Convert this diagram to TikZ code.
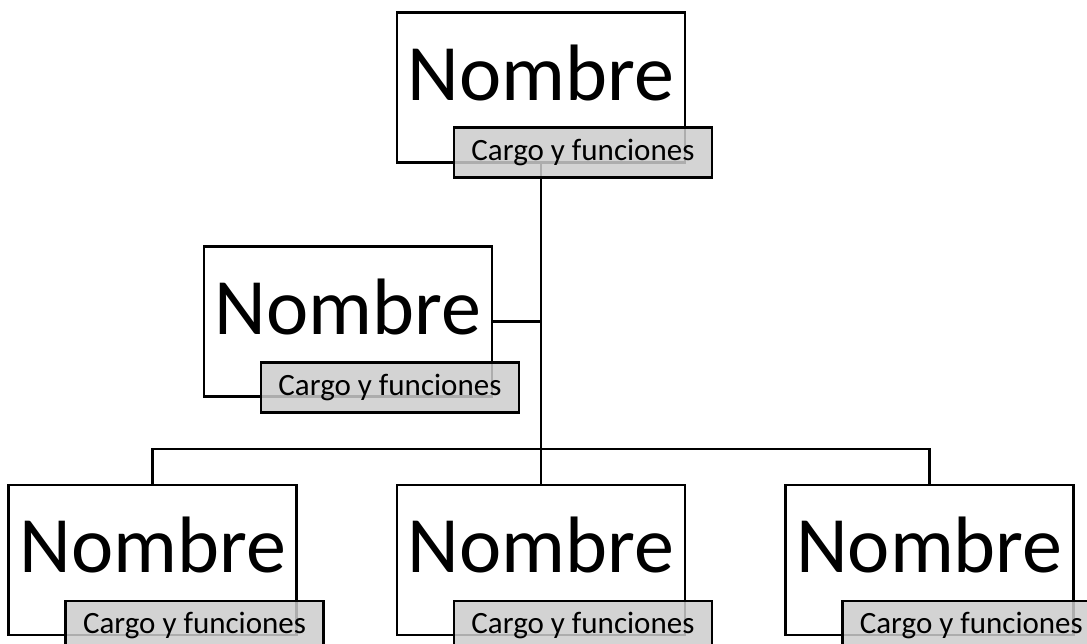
\documentclass[tikz,border=0pt]{standalone}
\usepackage{fontspec}
\setmainfont{Carlito}
\usetikzlibrary{positioning}
\tikzset{
    person/.style={draw=black,line width=2.4pt,fill=white,minimum width=288pt,minimum height=150pt,inner sep=0pt,text height=88pt,text depth=62pt,font=\fontsize{80}{80}\selectfont},
    role/.style={draw=black,line width=2.3pt,fill=gray!40,fill opacity=0.85,text opacity=1,minimum width=258pt,minimum height=50pt,inner sep=0pt,font=\fontsize{31}{31}\selectfont},
    link/.style={line width=2.3pt}
}

\begin{document}
\begin{tikzpicture}[x=1pt,y=1pt]
    \useasboundingbox (0,0) rectangle (1087,-643);

    \node [person] (top) at (541,-87.5) {Nombre};
    \node [person] (mid) at (348,-321.5) {Nombre};
    \node [person,below=320pt of top] (b2) {Nombre};
    \node [person,left=98pt of b2] (b1) {Nombre};
    \node [person,right=98pt of b2] (b3) {Nombre};

    \draw [link] (top.south) -- (b2.north);
    \draw [link] (mid.east) -- (mid.east -| top.south);
    \draw [link] (b1.north) -- ++(0,35) -| (b3.north);

    \node [role,below right=115pt and 57pt of top.north west] (toprole) {Cargo y funciones};
    \node [role,below right=116pt and 57pt of mid.north west] (midrole) {Cargo y funciones};
    \node [role,below right=116pt and 57pt of b1.north west] (b1role) {Cargo y funciones};
    \node [role,below right=116pt and 57pt of b2.north west] (b2role) {Cargo y funciones};
    \node [role,below right=116pt and 57pt of b3.north west] (b3role) {Cargo y funciones};
\end{tikzpicture}
\end{document}
